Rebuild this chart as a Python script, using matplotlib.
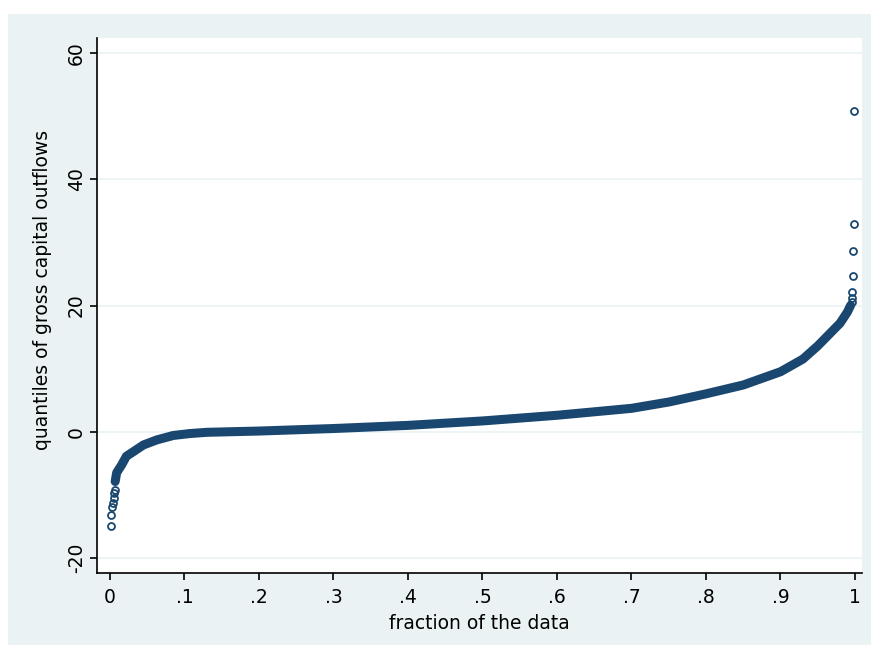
import matplotlib

matplotlib.use("Agg")
import matplotlib.pyplot as plt
from matplotlib.patches import Rectangle

plt.rcParams["font.family"] = ["DejaVu Sans"]

NAVY = "#1a476f"
PANEL = "#eaf2f3"

# sparse points at the ends, drawn as single hollow markers
tail_lo_frac = [0.001, 0.002, 0.003, 0.004, 0.005, 0.006, 0.007]
tail_lo_q = [-15.0, -13.2, -12.0, -11.3, -10.5, -9.7, -9.2]
tail_hi_frac = [0.9955, 0.9960, 0.9965, 0.9970, 0.9975, 0.9980, 0.9987]
tail_hi_q = [20.6, 21.2, 22.1, 24.7, 28.7, 32.9, 50.9]

# dense middle of the quantile curve
curve_frac = [0.007, 0.009, 0.016, 0.022, 0.031, 0.045, 0.063, 0.085, 0.107,
              0.13, 0.2, 0.3, 0.4, 0.5, 0.6, 0.7, 0.75, 0.8, 0.85, 0.9,
              0.93, 0.95, 0.97, 0.98, 0.99, 0.994]
curve_q = [-7.9, -6.5, -5.2, -3.9, -3.2, -2.1, -1.3, -0.6, -0.3,
           -0.1, 0.1, 0.5, 1.0, 1.7, 2.6, 3.7, 4.7, 6.0, 7.4, 9.5,
           11.5, 13.6, 16.0, 17.2, 19.0, 20.0]

xticks = [0, 0.1, 0.2, 0.3, 0.4, 0.5, 0.6, 0.7, 0.8, 0.9, 1.0]
xtick_labels = ["0", ".1", ".2", ".3", ".4", ".5", ".6", ".7", ".8", ".9", "1"]
yticks = [-20, 0, 20, 40, 60]


def main() -> int:
    fig = plt.figure(figsize=(8.79, 6.51), dpi=100, facecolor="white")
    bg = Rectangle((8 / 879, 6 / 651), 863 / 879, 631 / 651,
                   transform=fig.transFigure, facecolor=PANEL, edgecolor="none")
    bg.set_zorder(-10)
    fig.add_artist(bg)
    ax = fig.add_axes([97 / 879, 78 / 651, 765 / 879, 535 / 651])
    ax.set_zorder(1)
    ax.set_facecolor("white")

    for y in yticks:
        ax.axhline(y, color=PANEL, lw=1.2, zorder=1)

    ax.plot(curve_frac, curve_q, color=NAVY, lw=6.5, solid_capstyle="round", zorder=3)
    ax.plot(tail_lo_frac, tail_lo_q, ls="none", marker="o", ms=5, mfc="none",
            mec=NAVY, mew=1.3, zorder=4)
    ax.plot(tail_hi_frac, tail_hi_q, ls="none", marker="o", ms=5, mfc="none",
            mec=NAVY, mew=1.3, zorder=4)

    ax.set_xlim(-0.0174, 1.0094)
    ax.set_ylim(-22.4, 62.4)
    ax.set_xticks(xticks, xtick_labels)
    ax.set_yticks(yticks, [str(v) for v in yticks])
    for lab in ax.get_yticklabels():
        lab.set_rotation(90)
        lab.set_va("center")
    ax.tick_params(length=5, width=1.2, labelsize=13.5, pad=6)
    ax.tick_params(axis="y", pad=3)
    for side in ["top", "right"]:
        ax.spines[side].set_visible(False)
    for side in ["left", "bottom"]:
        ax.spines[side].set_linewidth(1.2)

    ax.set_xlabel("fraction of the data", fontsize=13.5, labelpad=5)
    ax.set_ylabel("quantiles of gross capital outflows", fontsize=13.5, labelpad=11)
    ax.yaxis.label.set_y(0.529)

    fig.savefig("out.png", dpi=100, facecolor="white")
    plt.close(fig)
    return 0


if __name__ == "__main__":
    raise SystemExit(main())
